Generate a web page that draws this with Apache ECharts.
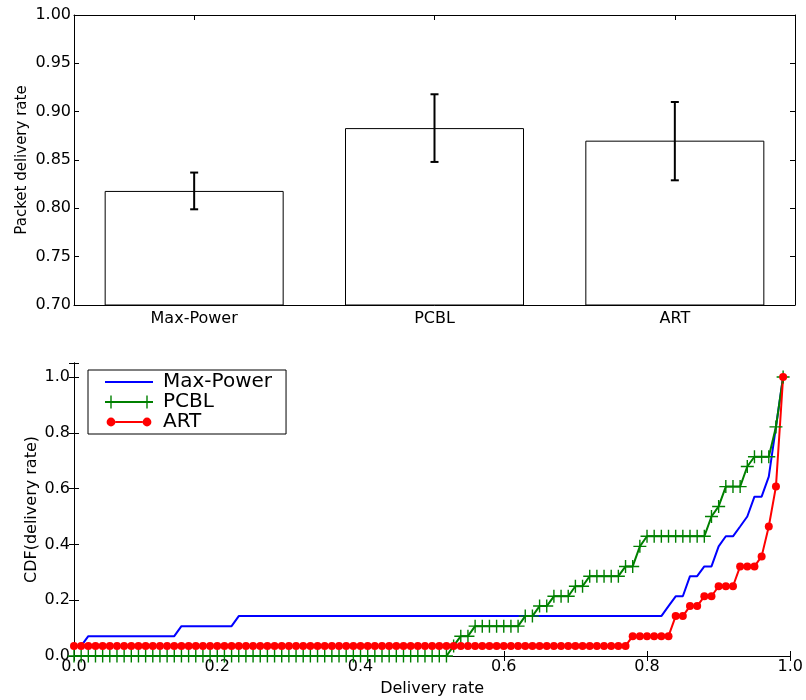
<!DOCTYPE html>
<html>
<head>
<meta charset="utf-8">
<script src="https://cdn.jsdelivr.net/npm/echarts@6/dist/echarts.min.js"></script>
<style>html,body{margin:0;padding:0;background:#fff}#c{width:806px;height:700px}</style>
</head>
<body>
<div id="c"></div>
<script>
// ---- Top chart data ----
const categories = ['Max-Power', 'PCBL', 'ART'];
const barValues = [0.818, 0.883, 0.870];
const errLow = [0.799, 0.848, 0.829];
const errHigh = [0.837, 0.918, 0.910];

// ---- Bottom chart data ----
const cdfX = [
  0.00,0.01,0.02,0.03,0.04,0.05,0.06,0.07,0.08,0.09,
  0.10,0.11,0.12,0.13,0.14,0.15,0.16,0.17,0.18,0.19,
  0.20,0.21,0.22,0.23,0.24,0.25,0.26,0.27,0.28,0.29,
  0.30,0.31,0.32,0.33,0.34,0.35,0.36,0.37,0.38,0.39,
  0.40,0.41,0.42,0.43,0.44,0.45,0.46,0.47,0.48,0.49,
  0.50,0.51,0.52,0.53,0.54,0.55,0.56,0.57,0.58,0.59,
  0.60,0.61,0.62,0.63,0.64,0.65,0.66,0.67,0.68,0.69,
  0.70,0.71,0.72,0.73,0.74,0.75,0.76,0.77,0.78,0.79,
  0.80,0.81,0.82,0.83,0.84,0.85,0.86,0.87,0.88,0.89,
  0.90,0.91,0.92,0.93,0.94,0.95,0.96,0.97,0.98,0.99
];
const maxPower = [
  0.036,0.036,0.071,0.071,0.071,0.071,0.071,0.071,0.071,0.071,
  0.071,0.071,0.071,0.071,0.071,0.107,0.107,0.107,0.107,0.107,
  0.107,0.107,0.107,0.143,0.143,0.143,0.143,0.143,0.143,0.143,
  0.143,0.143,0.143,0.143,0.143,0.143,0.143,0.143,0.143,0.143,
  0.143,0.143,0.143,0.143,0.143,0.143,0.143,0.143,0.143,0.143,
  0.143,0.143,0.143,0.143,0.143,0.143,0.143,0.143,0.143,0.143,
  0.143,0.143,0.143,0.143,0.143,0.143,0.143,0.143,0.143,0.143,
  0.143,0.143,0.143,0.143,0.143,0.143,0.143,0.143,0.143,0.143,
  0.143,0.143,0.143,0.179,0.214,0.214,0.286,0.286,0.321,0.321,
  0.393,0.429,0.429,0.464,0.500,0.571,0.571,0.643,0.821,1.000
];
const pcbl = [
  0,0,0,0,0,0,0,0,0,0,
  0,0,0,0,0,0,0,0,0,0,
  0,0,0,0,0,0,0,0,0,0,
  0,0,0,0,0,0,0,0,0,0,
  0,0,0,0,0,0,0,0,0,0,
  0,0,0,0.036,0.071,0.071,0.107,0.107,0.107,0.107,
  0.107,0.107,0.107,0.143,0.143,0.179,0.179,0.214,0.214,0.214,
  0.250,0.250,0.286,0.286,0.286,0.286,0.286,0.321,0.321,0.393,
  0.429,0.429,0.429,0.429,0.429,0.429,0.429,0.429,0.429,0.500,
  0.536,0.607,0.607,0.607,0.679,0.714,0.714,0.714,0.821,1.000
];
const art = [
  0.036,0.036,0.036,0.036,0.036,0.036,0.036,0.036,0.036,0.036,
  0.036,0.036,0.036,0.036,0.036,0.036,0.036,0.036,0.036,0.036,
  0.036,0.036,0.036,0.036,0.036,0.036,0.036,0.036,0.036,0.036,
  0.036,0.036,0.036,0.036,0.036,0.036,0.036,0.036,0.036,0.036,
  0.036,0.036,0.036,0.036,0.036,0.036,0.036,0.036,0.036,0.036,
  0.036,0.036,0.036,0.036,0.036,0.036,0.036,0.036,0.036,0.036,
  0.036,0.036,0.036,0.036,0.036,0.036,0.036,0.036,0.036,0.036,
  0.036,0.036,0.036,0.036,0.036,0.036,0.036,0.036,0.071,0.071,
  0.071,0.071,0.071,0.071,0.143,0.143,0.179,0.179,0.214,0.214,
  0.250,0.250,0.250,0.321,0.321,0.321,0.357,0.464,0.607,1.000
];
const seriesNames = ['Max-Power', 'PCBL', 'ART'];

const FONT = 'DejaVu Sans';
const pair = (ys) => cdfX.map((x, i) => [x, ys[i]]);
const crossPath = 'path://M0,5.8L13,5.8L13,7.2L0,7.2Z M5.8,0L7.2,0L7.2,13L5.8,13Z';
const lineIcon = 'path://M0,0L0,0Z M48,13L48,13Z M0,5.6L48,5.6L48,7.4L0,7.4Z';
const pcblIcon = 'path://M0,5.6L48,5.6L48,7.4L0,7.4Z M5.3,0L6.7,0L6.7,13L5.3,13Z M41.3,0L42.7,0L42.7,13L41.3,13Z';
const artIcon = 'path://M0,0L0,0Z M48,13L48,13Z M1.6,6.5A4.4,4.4 0 1,1 10.4,6.5A4.4,4.4 0 1,1 1.6,6.5Z M37.6,6.5A4.4,4.4 0 1,1 46.4,6.5A4.4,4.4 0 1,1 37.6,6.5Z M10.4,5.5L37.6,5.5L37.6,7.5L10.4,7.5Z';

const axLine = { show: true, lineStyle: { color: '#000', width: 1 } };
const tickIn = { show: true, inside: true, length: 5, lineStyle: { color: '#000', width: 1 } };

const chart = echarts.init(document.getElementById('c'), null, { renderer: 'canvas' });
chart.setOption({
  animation: false,
  backgroundColor: '#fff',
  textStyle: { fontFamily: FONT },
  grid: [
    { left: 74, right: 11, top: 15, bottom: 395 },
    { left: 74, right: 14, top: 363, bottom: 44 }
  ],
  legend: {
    left: 88, top: 370,
    orient: 'vertical',
    padding: [2, 14, 2, 17],
    itemGap: 0,
    itemWidth: 48, itemHeight: 13,
    borderColor: '#000', borderWidth: 1,
    backgroundColor: '#fff',
    textStyle: { fontFamily: FONT, fontSize: 20, color: '#000', lineHeight: 20, padding: [0, 0, 0, 5] },
    itemStyle: { borderWidth: 0 },
    data: [
      { name: seriesNames[0], icon: lineIcon, itemStyle: { color: '#0000ff', borderWidth: 0 } },
      { name: seriesNames[1], icon: pcblIcon, itemStyle: { color: '#008000', borderWidth: 0 } },
      { name: seriesNames[2], icon: artIcon, itemStyle: { color: '#ff0000', borderWidth: 0 } }
    ]
  },
  xAxis: [
    { type: 'category', gridIndex: 0, data: categories, position: 'bottom',
      axisLine: axLine, axisTick: Object.assign({ alignWithLabel: true }, tickIn),
      axisLabel: { fontFamily: FONT, fontSize: 16, color: '#000', margin: 6 }, splitLine: { show: false } },
    { type: 'category', gridIndex: 0, data: categories, position: 'top',
      axisLine: axLine, axisTick: Object.assign({ alignWithLabel: true }, tickIn),
      axisLabel: { show: false }, splitLine: { show: false } },
    { type: 'value', gridIndex: 1, min: 0, max: 1, interval: 0.2, position: 'bottom',
      name: 'Delivery rate', nameLocation: 'middle', nameGap: 25, nameMoveOverlap: false,
      nameTextStyle: { fontFamily: FONT, fontSize: 16, color: '#000' },
      axisLine: axLine, axisTick: tickIn,
      axisLabel: { fontFamily: FONT, fontSize: 16, color: '#000', margin: 3, formatter: v => v.toFixed(1) },
      splitLine: { show: false } },
    { type: 'value', gridIndex: 1, min: 0, max: 1, interval: 0.2, position: 'top',
      axisLine: axLine, axisTick: tickIn, axisLabel: { show: false }, splitLine: { show: false } }
  ],
  yAxis: [
    { type: 'value', gridIndex: 0, min: 0.7, max: 1.0, interval: 0.05, position: 'left',
      name: 'Packet delivery rate', nameLocation: 'middle', nameGap: 44, nameRotate: 90, nameMoveOverlap: false,
      nameTextStyle: { fontFamily: FONT, fontSize: 15, color: '#000' },
      axisLine: axLine, axisTick: tickIn,
      axisLabel: { fontFamily: FONT, fontSize: 16, color: '#000', margin: 3, formatter: v => v.toFixed(2) },
      splitLine: { show: false } },
    { type: 'value', gridIndex: 0, min: 0.7, max: 1.0, interval: 0.05, position: 'right',
      axisLine: axLine, axisTick: tickIn, axisLabel: { show: false }, splitLine: { show: false } },
    { type: 'value', gridIndex: 1, min: 0, max: 1.05, interval: 0.2, position: 'left',
      name: 'CDF(delivery rate)', nameLocation: 'middle', nameGap: 34, nameRotate: 90, nameMoveOverlap: false,
      nameTextStyle: { fontFamily: FONT, fontSize: 16, color: '#000' },
      axisLine: axLine, axisTick: tickIn,
      axisLabel: { fontFamily: FONT, fontSize: 16, color: '#000', margin: 4,
        formatter: v => (v > 1.001 ? '' : v.toFixed(1)) },
      splitLine: { show: false } },
    { type: 'value', gridIndex: 1, min: 0, max: 1.05, interval: 0.2, position: 'right',
      axisLine: axLine, axisTick: tickIn, axisLabel: { show: false }, splitLine: { show: false } }
  ],
  series: [
    { type: 'bar', xAxisIndex: 0, yAxisIndex: 0, data: barValues, barWidth: 179,
      itemStyle: { color: '#ffffff', borderColor: '#000', borderWidth: 1 }, silent: true },
    { type: 'custom', xAxisIndex: 0, yAxisIndex: 0,
      data: categories.map((c, i) => [i, errLow[i], errHigh[i]]),
      renderItem: function (params, api) {
        const lo = api.coord([api.value(0), api.value(1)]);
        const hi = api.coord([api.value(0), api.value(2)]);
        const w = 4;
        const st = { stroke: '#000', lineWidth: 2 };
        return { type: 'group', children: [
          { type: 'line', shape: { x1: hi[0], y1: hi[1], x2: lo[0], y2: lo[1] }, style: st },
          { type: 'line', shape: { x1: hi[0] - w, y1: hi[1], x2: hi[0] + w, y2: hi[1] }, style: st },
          { type: 'line', shape: { x1: lo[0] - w, y1: lo[1], x2: lo[0] + w, y2: lo[1] }, style: st }
        ]};
      }, z: 5 },
    { name: seriesNames[0], type: 'line', xAxisIndex: 2, yAxisIndex: 2, data: pair(maxPower),
      symbol: 'none', showSymbol: false,
      lineStyle: { color: '#0000ff', width: 2 }, itemStyle: { color: '#0000ff' } },
    { name: seriesNames[1], type: 'line', xAxisIndex: 2, yAxisIndex: 2, data: pair(pcbl),
      symbol: crossPath, symbolSize: 13, showAllSymbol: true,
      lineStyle: { color: '#008000', width: 2 }, itemStyle: { color: '#008000', borderWidth: 0 } },
    { name: seriesNames[2], type: 'line', xAxisIndex: 2, yAxisIndex: 2, data: pair(art),
      symbol: 'circle', symbolSize: 8, showAllSymbol: true,
      lineStyle: { color: '#ff0000', width: 2 }, itemStyle: { color: '#ff0000', borderWidth: 0 } }
  ]
});
</script>
</body>
</html>
